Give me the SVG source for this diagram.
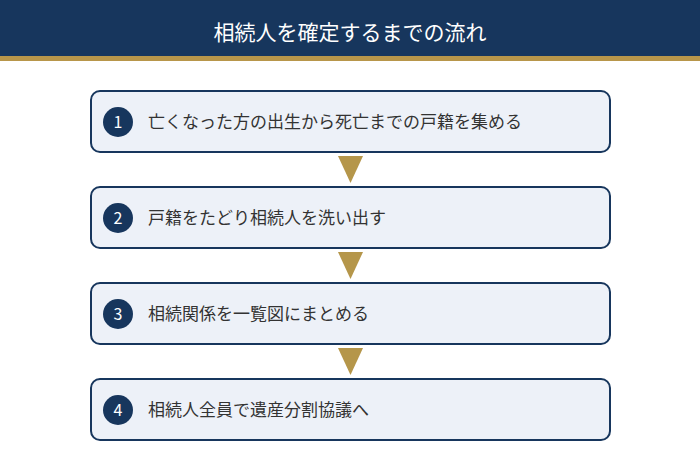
<svg xmlns="http://www.w3.org/2000/svg" width="700" height="470" viewBox="0 0 700 470">
<style>
.box{fill:#edf1f8;stroke:#17365d;stroke-width:2}
.num{fill:#17365d}
.nt{fill:#ffffff;font-family:"Noto Sans CJK JP","Noto Sans",sans-serif;font-size:16px;text-anchor:middle}
.lbl{fill:#333333;font-family:"Noto Sans CJK JP",sans-serif;font-size:17px}
.arr{fill:#b5964a}
</style>
<rect x="0" y="0" width="700" height="470" fill="#ffffff"/>
<g id="header">
<rect x="0" y="0" width="700" height="56" fill="#17365d"/>
<rect x="0" y="56" width="700" height="5" fill="#b8964a"/>
<text x="350" y="40" fill="#ffffff" font-family="Noto Sans CJK JP, sans-serif" font-size="21" text-anchor="middle">相続人を確定するまでの流れ</text>
</g>
<g id="connectors">
<polygon class="arr" points="338,156 363,156 350.5,183"/>
<polygon class="arr" points="338,252 363,252 350.5,279"/>
<polygon class="arr" points="338,348 363,348 350.5,375"/>
</g>
<g id="step1">
<rect class="box" x="91" y="91" width="519" height="61" rx="9"/>
<circle class="num" cx="118" cy="122" r="15"/>
<text class="nt" x="118" y="127.5">1</text>
<text class="lbl" x="148" y="128">亡くなった方の出生から死亡までの戸籍を集める</text>
</g>
<g id="step2">
<rect class="box" x="91" y="187" width="519" height="61" rx="9"/>
<circle class="num" cx="118" cy="218" r="15"/>
<text class="nt" x="118" y="223.5">2</text>
<text class="lbl" x="148" y="224">戸籍をたどり相続人を洗い出す</text>
</g>
<g id="step3">
<rect class="box" x="91" y="283" width="519" height="61" rx="9"/>
<circle class="num" cx="118" cy="314" r="15"/>
<text class="nt" x="118" y="319.5">3</text>
<text class="lbl" x="148" y="320">相続関係を一覧図にまとめる</text>
</g>
<g id="step4">
<rect class="box" x="91" y="379" width="519" height="61" rx="9"/>
<circle class="num" cx="118" cy="410" r="15"/>
<text class="nt" x="118" y="415.5">4</text>
<text class="lbl" x="148" y="416">相続人全員で遺産分割協議へ</text>
</g>
</svg>
